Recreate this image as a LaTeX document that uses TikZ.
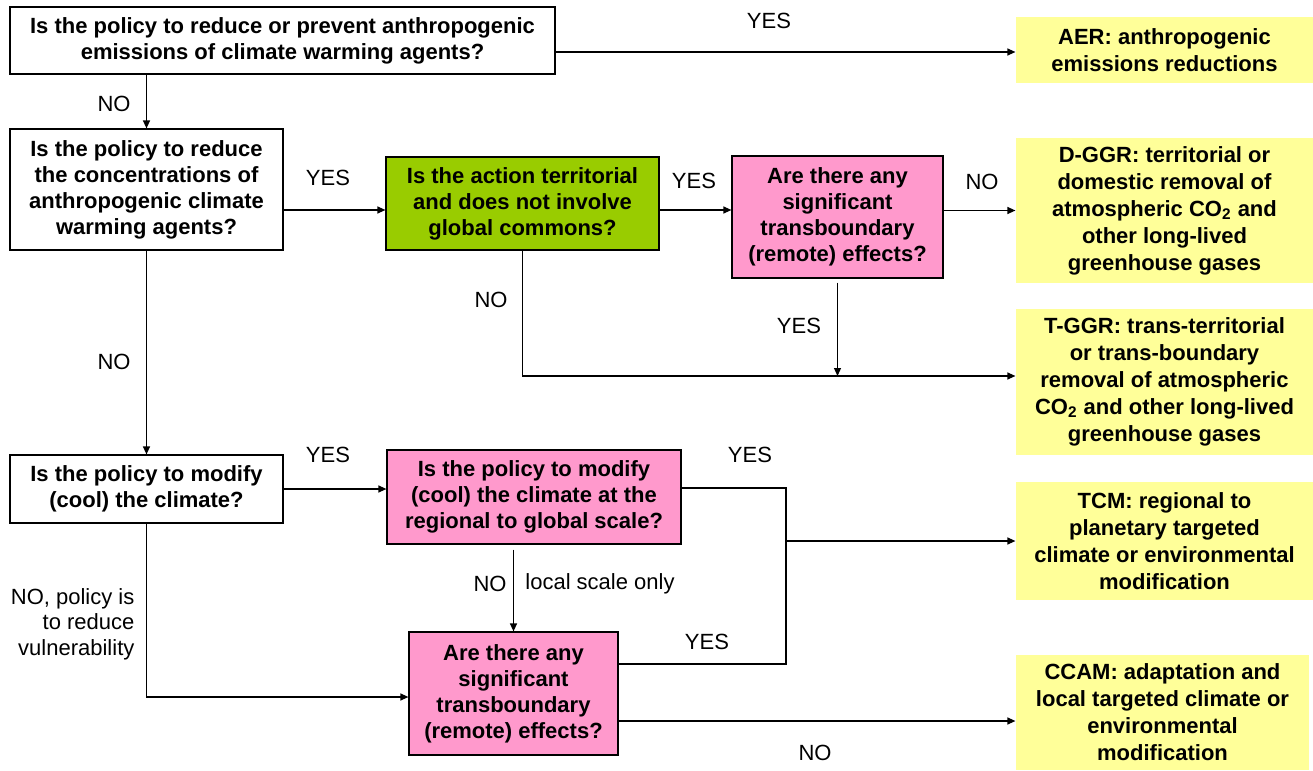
\documentclass[tikz,border=0pt]{standalone}
\usepackage{fontspec}
\setmainfont{Liberation Sans}
\usetikzlibrary{arrows.meta}
\definecolor{askgreen}{HTML}{99CC00}
\definecolor{askpink}{HTML}{FF99CC}
\definecolor{endyellow}{HTML}{FFFF99}
\begin{document}
\begin{tikzpicture}[x=0.5pt, y=-0.5pt, >={Triangle[length=4pt,width=3.5pt]},
 line width=0.6pt,
 qbox/.style={draw, fill=white, inner sep=0pt, align=center, font=\fontsize{11}{13}\selectfont\bfseries},
 greenbox/.style={qbox, fill=askgreen},
 pinkbox/.style={qbox, fill=askpink},
 endbox/.style={fill=endyellow, inner sep=0pt, align=center, font=\fontsize{11}{13.5}\selectfont\bfseries},
 lbl/.style={inner sep=0pt, font=\fontsize{11}{12.8}\selectfont}]
 \useasboundingbox (0,0) rectangle (1313,771);
 % questions
 \node[qbox, minimum width=272.5pt, minimum height=33.5pt] (emis) at (282.5,40.5)
  {Is the policy to reduce or prevent anthropogenic\\emissions of climate warming agents?};
 \node[qbox, minimum width=136.5pt, minimum height=60.5pt] (conc) at (146.5,189.5)
  {Is the policy to reduce\\the concentrations of\\anthropogenic climate\\warming agents?};
 \node[qbox, minimum width=136.5pt, minimum height=34pt] (cool) at (146.5,489)
  {Is the policy to modify\\(cool) the climate?};
 \node[greenbox, minimum width=136.5pt, minimum height=46.5pt] (terr) at (522.5,203.5)
  {Is the action territorial\\and does not involve\\global commons?};
 \node[pinkbox, minimum width=105.5pt, minimum height=61pt] (trans) at (837.5,217)
  {Are there any\\significant\\transboundary\\(remote) effects?};
 \node[pinkbox, minimum width=147pt, minimum height=47pt] (scale) at (534,497)
  {Is the policy to modify\\(cool) the climate at the\\regional to global scale?};
 \node[pinkbox, minimum width=104.5pt, minimum height=61.5pt] (remote) at (513.5,693.5)
  {Are there any\\significant\\transboundary\\(remote) effects?};
 % outcomes
 \node[endbox, minimum width=148.5pt, minimum height=33pt] (aer) at (1164.5,50)
  {AER: anthropogenic\\emissions reductions};
 \node[endbox, minimum width=148.5pt, minimum height=72.5pt] (dggr) at (1164.5,210.5)
  {D-GGR: territorial or\\domestic removal of\\atmospheric CO\textsubscript{2} and\\other long-lived\\greenhouse gases};
 \node[endbox, minimum width=148.5pt, minimum height=73pt] (tggr) at (1164.5,382)
  {T-GGR: trans-territorial\\or trans-boundary\\removal of atmospheric\\CO\textsubscript{2} and other long-lived\\greenhouse gases};
 \node[endbox, minimum width=148.5pt, minimum height=59pt] (tcm) at (1164.5,541)
  {TCM: regional to\\planetary targeted\\climate or environmental\\modification};
 \node[endbox, minimum width=146.5pt, minimum height=57.5pt] (ccam) at (1162.5,712.5)
  {CCAM: adaptation and\\local targeted climate or\\environmental\\modification};
 % connectors
 \coordinate (tjoin) at (837.5,376);
 \coordinate (mjoin) at (786,541);
 \draw[->] (emis.east |- 0,52) -- (aer.west |- 0,52);
 \draw[->] (conc.north |- emis.south) -- (conc.north);
 \draw[->] (conc.east |- 0,210) -- (terr.west |- 0,210);
 \draw[->] (terr.east |- 0,210) -- (trans.west |- 0,210);
 \draw[->] (trans.east |- dggr.west) -- (dggr.west);
 \draw[->] (terr.south) |- (tggr.west |- tjoin);
 \draw[->] ([yshift=-2pt]trans.south) -- (tjoin);
 \draw[->] (conc.south) -- (cool.north);
 \draw[->] (cool.east) -- (cool.east -| scale.west);
 \draw (scale.east |- 0,488) -| (mjoin |- 0,664) -- (remote.east |- 0,664);
 \draw[->] (mjoin) -- (tcm.west);
 \draw[->] ([yshift=-2.5pt]remote.north |- scale.south) -- (remote.north);
 \draw[->] (cool.south) |- (remote.west |- 0,697);
 \draw[->] (remote.east |- 0,721) -- (ccam.west |- 0,721);
 % answers
 \node[lbl] (l1) at (769,21) {YES};
 \node[lbl] (l2) at (114,104) {NO};
 \node[lbl] (l3) at (328,178) {YES};
 \node[lbl] (l4) at (694,181) {YES};
 \node[lbl] (l5) at (982,182) {NO};
 \node[lbl] (l6) at (491,300) {NO};
 \node[lbl] (l7) at (799,326) {YES};
 \node[lbl] (l8) at (114,362) {NO};
 \node[lbl] (l9) at (328,455) {YES};
 \node[lbl] (l10) at (750,455) {YES};
 \node[lbl] (l11) at (490,584) {NO};
 \node[lbl] (l12) at (600,584) {local scale only};
 \node[lbl] (l13) at (707,642) {YES};
 \node[lbl, align=right, anchor=east] (l14) at (135,624) {NO, policy is\\to reduce\\vulnerability};
 \node[lbl] (l15) at (815,753) {NO};
\end{tikzpicture}
\end{document}
